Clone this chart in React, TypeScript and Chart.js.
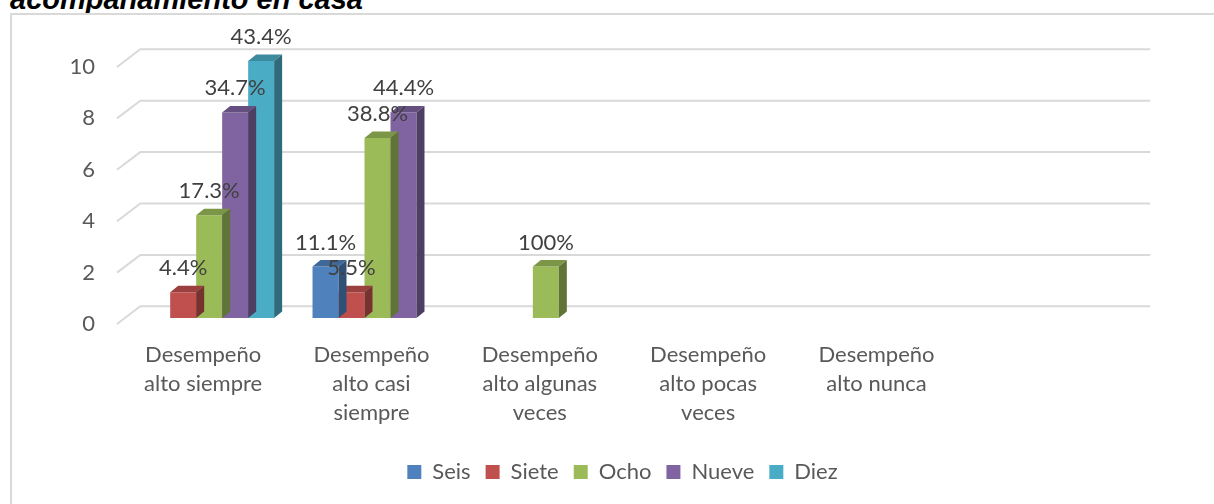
import React, { useEffect, useRef } from "react";
import { Chart, registerables } from "chart.js";

Chart.register(...registerables);

const categories: (string | string[])[] = [
  ["Desempeño", "alto siempre"],
  ["Desempeño", "alto casi", "siempre"],
  ["Desempeño", "alto algunas", "veces"],
  ["Desempeño", "alto pocas", "veces"],
  ["Desempeño", "alto nunca"],
  "",
];

const seriesNames = ["Seis", "Siete", "Ocho", "Nueve", "Diez"];
const seis = [0, 2, 0, 0, 0, null];
const siete = [1, 1, 0, 0, 0, null];
const ocho = [4, 7, 2, 0, 0, null];
const nueve = [8, 8, 0, 0, 0, null];
const diez = [10, 0, 0, 0, 0, null];

const seisPct = ["", "11.1%", "", "", "", ""];
const sietePct = ["4.4%", "5.5%", "", "", "", ""];
const ochoPct = ["17.3%", "38.8%", "100%", "", "", ""];
const nuevePct = ["34.7%", "44.4%", "", "", "", ""];
const diezPct = ["43.4%", "", "", "", "", ""];

const yTicks = [0, 2, 4, 6, 8, 10];

const seriesColors = ["#4F81BD", "#C0504D", "#9BBB59", "#8064A2", "#4BACC6"];
const seriesValues = [seis, siete, ocho, nueve, diez];
const seriesPct = [seisPct, sietePct, ochoPct, nuevePct, diezPct];

const FONT = "Lato";
const DX = 8;
const DY = 6.5;
const CANVAS_W = 1260;
const CANVAS_H = 504;

function shade(hex: string, f: number) {
  const n = parseInt(hex.slice(1), 16);
  const r = Math.round(((n >> 16) & 255) * f);
  const g = Math.round(((n >> 8) & 255) * f);
  const b = Math.round((n & 255) * f);
  return `rgb(${r},${g},${b})`;
}

const depthPlugin = {
  id: "depth3d",
  beforeDatasetsDraw(chart: any) {
    const { ctx, chartArea, scales } = chart;
    const y = scales.y;
    ctx.save();
    ctx.strokeStyle = "#d9d9d9";
    ctx.lineWidth = 2;
    yTicks.forEach((v) => {
      const py = y.getPixelForValue(v);
      ctx.beginPath();
      ctx.moveTo(chartArea.left - 8, py + 6);
      ctx.lineTo(chartArea.left + 15.3, py - 11.7);
      ctx.lineTo(chartArea.right + 15.3, py - 11.7);
      ctx.stroke();
    });
    ctx.restore();
  },
  afterDatasetDraw(chart: any, args: any) {
    const idx = args.index;
    const meta = chart.getDatasetMeta(idx);
    const ds = chart.data.datasets[idx];
    const color = seriesColors[idx];
    const ctx = chart.ctx;
    ctx.save();
    meta.data.forEach((el: any, i: number) => {
      const v = ds.data[i];
      if (!v) return;
      const { x, y, width, base } = el.getProps(["x", "y", "width", "base"], true);
      const x0 = x - width / 2;
      const x1 = x + width / 2;
      ctx.fillStyle = shade(color, 0.8);
      ctx.beginPath();
      ctx.moveTo(x0, y);
      ctx.lineTo(x1, y);
      ctx.lineTo(x1 + DX, y - DY);
      ctx.lineTo(x0 + DX, y - DY);
      ctx.closePath();
      ctx.fill();
      ctx.fillStyle = shade(color, 0.62);
      ctx.beginPath();
      ctx.moveTo(x1, y);
      ctx.lineTo(x1 + DX, y - DY);
      ctx.lineTo(x1 + DX, base - DY);
      ctx.lineTo(x1, base);
      ctx.closePath();
      ctx.fill();
    });
    ctx.restore();
  },
  afterDraw(chart: any) {
    const ctx = chart.ctx;
    ctx.save();
    ctx.font = `22px ${FONT}`;
    ctx.fillStyle = "#404040";
    ctx.textAlign = "center";
    ctx.textBaseline = "middle";
    chart.data.datasets.forEach((ds: any, di: number) => {
      const meta = chart.getDatasetMeta(di);
      meta.data.forEach((el: any, i: number) => {
        const txt = seriesPct[di][i];
        if (!txt) return;
        const { x, y } = el.getProps(["x", "y"], true);
        ctx.fillText(txt, x, y - 24);
      });
    });
    ctx.restore();
  },
};

export default function App() {
  const ref = useRef<HTMLCanvasElement>(null);
  useEffect(() => {
    if (!ref.current) return;
    Chart.defaults.font.family = FONT;
    const chart = new Chart(ref.current, {
      type: "bar",
      data: {
        labels: categories,
        datasets: seriesNames.map((name, i) => ({
          label: name,
          data: seriesValues[i],
          backgroundColor: seriesColors[i],
          borderWidth: 0,
          categoryPercentage: 0.772,
          barPercentage: 1,
        })),
      },
      options: {
        responsive: false,
        animation: false,
        events: [],
        layout: { padding: { top: 61, left: 0, right: 15, bottom: 11 } },
        plugins: {
          tooltip: { enabled: false },
          legend: {
            position: "bottom",
            labels: {
              boxWidth: 14,
              boxHeight: 14,
              padding: 15,
              color: "#595959",
              font: { family: FONT, size: 22 },
            },
          },
        },
        scales: {
          x: {
            grid: { display: false, drawTicks: false },
            border: { display: false },
            ticks: {
              color: "#595959",
              font: { family: FONT, size: 22, lineHeight: 29 / 22 },
              padding: 22,
              labelOffset: -6,
              maxRotation: 0,
              autoSkip: false,
            },
            afterFit: (s: any) => {
              s.height = 128;
            },
          },
          y: {
            min: 0,
            max: 10,
            grid: { display: false, drawTicks: false },
            border: { display: false },
            ticks: {
              stepSize: 2,
              color: "#595959",
              font: { family: FONT, size: 22 },
              padding: 30,
              labelOffset: 6,
            },
            afterFit: (s: any) => {
              s.width = 125;
            },
          },
          yRight: {
            type: "linear",
            position: "right",
            display: true,
            grid: { display: false, drawTicks: false },
            border: { display: false },
            ticks: { display: false },
            afterFit: (s: any) => {
              s.width = 110;
            },
          },
        },
      },
      plugins: [depthPlugin],
    });
    return () => chart.destroy();
  }, []);

  return (
    <div
      style={{
        position: "absolute",
        left: 0,
        top: 0,
        width: 1214,
        height: 504,
        overflow: "hidden",
        background: "#fff",
      }}
    >
      <div
        style={{
          position: "absolute",
          left: 10,
          top: -15,
          font: 'bold italic 29px "Liberation Sans", Arial, sans-serif',
          lineHeight: "29px",
          color: "#000",
          whiteSpace: "nowrap",
        }}
      >
        acompañamiento en casa
      </div>
      <div
        style={{
          position: "absolute",
          left: 10,
          top: 13,
          width: 1400,
          height: 700,
          border: "2px solid #d9d9d9",
          background: "#fff",
        }}
      />
      <canvas
        ref={ref}
        width={CANVAS_W}
        height={CANVAS_H}
        style={{ position: "absolute", left: 0, top: 0, width: CANVAS_W, height: CANVAS_H }}
      />
    </div>
  );
}
